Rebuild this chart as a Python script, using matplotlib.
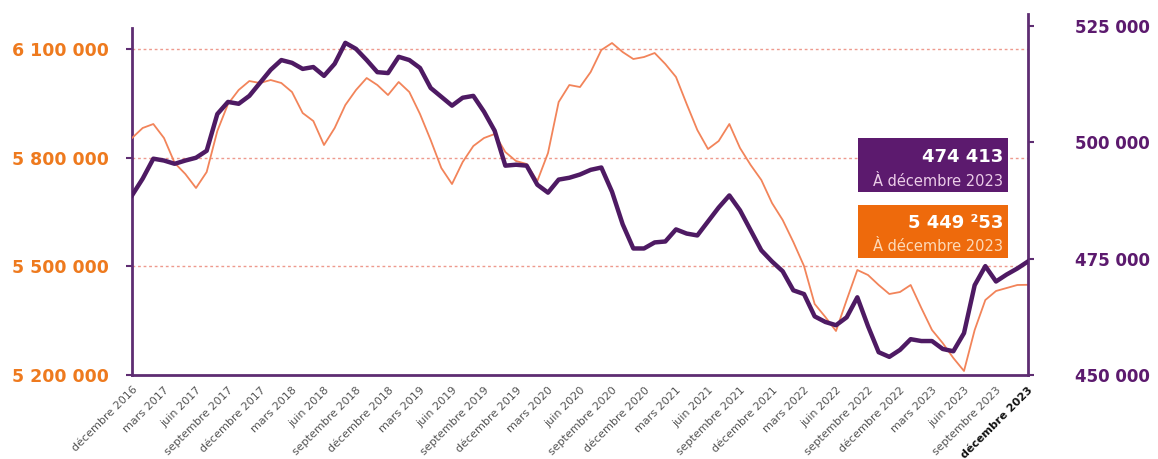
import numpy as np
import matplotlib
matplotlib.use("Agg")
import matplotlib.pyplot as plt
from matplotlib.ticker import FuncFormatter
from matplotlib.patches import Rectangle

# -----------------------------------------------
# Séries mensuelles, de décembre 2016 à décembre 2023
# -----------------------------------------------

# série orange (axe de gauche)
serie_orange = [
    5854800, 5882500, 5893500, 5854800, 5785800, 5755400, 5716700, 5760900,
    5874200, 5948800, 5987500, 6012300, 6006800, 6015100, 6006800, 5981900,
    5923900, 5901800, 5835500, 5882500, 5946000, 5987500, 6020600, 6001300,
    5973600, 6009600, 5981900, 5921100, 5849300, 5771900, 5727700, 5788500,
    5832700, 5854800, 5865900, 5816100, 5791300, 5783000, 5736000, 5813400,
    5954300, 6001300, 5995700, 6037200, 6098000, 6117300, 6092400, 6073100,
    6078600, 6089700, 6059300, 6023400, 5948800, 5876900, 5824400, 5846500,
    5893500, 5827200, 5780200, 5738800, 5675200, 5628300, 5567500, 5501200,
    5396200, 5360300, 5321600, 5407200, 5490100, 5476300, 5448700, 5423800,
    5429300, 5448700, 5385100, 5324300, 5288400, 5247000, 5211100, 5324300,
    5407200, 5432100, 5440400, 5448700, 5449253,
]

# série violette (axe de droite)
serie_violette = [
    488600, 492200, 496500, 496100, 495400, 496100, 496700, 498200,
    506100, 508700, 508300, 510000, 512800, 515600, 517700, 517100,
    515800, 516200, 514300, 516900, 521400, 520100, 517700, 515100,
    514900, 518400, 517700, 516000, 511700, 509800, 507900, 509600,
    510000, 506600, 502500, 495000, 495200, 495000, 490900, 489200,
    492000, 492400, 493100, 494100, 494600, 489400, 482400, 477200,
    477200, 478500, 478700, 481300, 480400, 480000, 483000, 486000,
    488600, 485400, 481100, 476800, 474400, 472300, 468200, 467400,
    462600, 461400, 460700, 462400, 466700, 460500, 454900, 453900,
    455400, 457700, 457300, 457300, 455600, 455100, 459000, 469300,
    473400, 470100, 471600, 472900, 474413,
]

mois = ["mars", "juin", "septembre", "décembre"]
etiquettes = ["décembre 2016"] + [f"{m} {a}" for a in range(2017, 2024) for m in mois]

ticks_gauche = [5200000, 5500000, 5800000, 6100000]
ticks_droite = [450000, 475000, 500000, 525000]

valeur_violette = "474 413"
valeur_orange = "5 449 ²53"
sous_titre = "À décembre 2023"

# couleurs
violet = "#4E1A63"
violet_axe = "#5E2D72"
violet_boite = "#5C1A6E"
orange = "#F2845A"
orange_txt = "#EE7A1E"
orange_boite = "#EE6A0C"
grille = "#EE9A8E"

x = np.arange(len(serie_orange))

fig = plt.figure(figsize=(11.58, 4.59), dpi=100)
ax = fig.add_axes([132 / 1158, 1 - 375 / 459, 896 / 1158, 361 / 459])
ax2 = ax.twinx()

# lignes de grille pointillées
for t in ticks_gauche[1:]:
    ax.axhline(t, color=grille, lw=1, ls=(0, (2, 2)), zorder=1)

ax.plot(x, serie_orange, color=orange, lw=1.3, zorder=3)
ax2.plot(x, serie_violette, color=violet, lw=3.2, zorder=4, solid_joinstyle="round")

ax.set_xlim(0, len(x) - 1)
ax.set_ylim(5200000, 6197500)
ax2.set_ylim(450000, 527600)

fmt = FuncFormatter(lambda v, p: f"{v:,.0f}".replace(",", " "))
ax.set_yticks(ticks_gauche)
ax.yaxis.set_major_formatter(fmt)
ax2.set_yticks(ticks_droite)
ax2.yaxis.set_major_formatter(fmt)

ax.tick_params(axis="y", length=4, width=1.5, color=violet_axe, pad=13,
               labelsize=12.5, labelcolor=orange_txt)
ax2.tick_params(axis="y", length=4, width=1.5, color=violet_axe, pad=30,
                labelsize=12, labelcolor=violet_boite)
for lab in ax.get_yticklabels():
    lab.set_fontweight("bold")
for lab in ax2.get_yticklabels():
    lab.set_fontweight("bold")

ax.set_xticks(x[::3])
ax.set_xticklabels(etiquettes, rotation=45, ha="right", rotation_mode="anchor",
                   fontsize=8, color="#555555")
ax.tick_params(axis="x", length=0, pad=7)
ax.get_xticklabels()[-1].set_fontweight("bold")
ax.get_xticklabels()[-1].set_color("#111111")

# axes
for s in ["top", "right"]:
    ax.spines[s].set_visible(False)
for s in ["top", "left", "bottom"]:
    ax2.spines[s].set_visible(False)
ax.spines["left"].set_color(violet_axe)
ax.spines["left"].set_linewidth(2)
ax.spines["left"].set_bounds(5200000, 6160000)
ax.spines["bottom"].set_color(violet_axe)
ax.spines["bottom"].set_linewidth(2)
ax2.spines["right"].set_color(violet_axe)
ax2.spines["right"].set_linewidth(2)

# encadrés de valeur
x0, x1 = 0.810, 0.978
ax2.add_patch(Rectangle((x0, 0.507), x1 - x0, 0.150, transform=ax2.transAxes,
                        facecolor=violet_boite, edgecolor="none", zorder=10))
ax2.add_patch(Rectangle((x0, 0.325), x1 - x0, 0.146, transform=ax2.transAxes,
                        facecolor=orange_boite, edgecolor="none", zorder=10))
ax2.text(0.972, 0.604, valeur_violette, transform=ax2.transAxes, ha="right", va="center",
         fontsize=13, fontweight="bold", color="white", zorder=11)
ax2.text(0.972, 0.535, sous_titre, transform=ax2.transAxes, ha="right", va="center",
         fontsize=10.5, color="#EBCDE8", zorder=11)
ax2.text(0.972, 0.421, valeur_orange, transform=ax2.transAxes, ha="right", va="center",
         fontsize=13, fontweight="bold", color="white", zorder=11)
ax2.text(0.972, 0.355, sous_titre, transform=ax2.transAxes, ha="right", va="center",
         fontsize=10.5, color="#FDDAB8", zorder=11)

fig.savefig("out.png", dpi=100)
